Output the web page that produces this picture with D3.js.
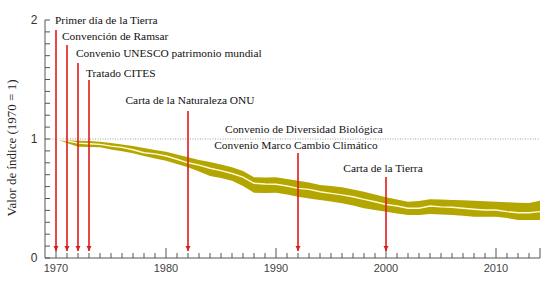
<!DOCTYPE html>
<html>
<head>
<meta charset="utf-8">
<script src="https://cdn.jsdelivr.net/npm/d3@7"></script>
<style>
  body { margin: 0; background: #fff; }
  svg { display: block; }
</style>
</head>
<body>
<div id="chart"></div>
<script>
// index values, 1970 = 1
const years = d3.range(1970, 2015);
const indexMid = [1.00, 0.985, 0.965, 0.96, 0.955, 0.94, 0.93, 0.91, 0.885, 0.875,
    0.857, 0.83, 0.80, 0.78, 0.754, 0.734, 0.71, 0.68, 0.628, 0.622,
    0.62, 0.605, 0.585, 0.577, 0.557, 0.543, 0.53, 0.515, 0.493, 0.473,
    0.45, 0.437, 0.418, 0.418, 0.437, 0.43, 0.426, 0.418, 0.41, 0.403,
    0.403, 0.39, 0.38, 0.38, 0.39];
const indexUpper = [1.00, 0.99, 0.985, 0.983, 0.977, 0.966, 0.954, 0.941, 0.924, 0.908,
    0.893, 0.87, 0.846, 0.824, 0.807, 0.786, 0.762, 0.731, 0.678, 0.676,
    0.678, 0.664, 0.65, 0.634, 0.613, 0.605, 0.594, 0.576, 0.557, 0.534,
    0.51, 0.492, 0.473, 0.479, 0.493, 0.492, 0.487, 0.485, 0.482, 0.477,
    0.473, 0.469, 0.465, 0.462, 0.482];
const indexLower = [1.00, 0.966, 0.935, 0.933, 0.93, 0.912, 0.897, 0.88, 0.857, 0.836,
    0.818, 0.79, 0.762, 0.727, 0.689, 0.672, 0.65, 0.605, 0.549, 0.546,
    0.549, 0.534, 0.515, 0.50, 0.487, 0.475, 0.46, 0.441, 0.418, 0.403,
    0.389, 0.374, 0.361, 0.361, 0.37, 0.366, 0.361, 0.355, 0.347, 0.347,
    0.347, 0.336, 0.319, 0.319, 0.319];

// milestones
const eventYears = [1970, 1971, 1972, 1973, 1982, 1992, 2000];
const eventLabels = [
    ["Primer día de la Tierra"],
    ["Convención de Ramsar"],
    ["Convenio UNESCO patrimonio mundial"],
    ["Tratado CITES"],
    ["Carta de la Naturaleza ONU"],
    ["Convenio de Diversidad Biológica", "Convenio Marco Cambio Climático"],
    ["Carta de la Tierra"]
];

const xTickYears = [1970, 1980, 1990, 2000, 2010];
const yTickValues = [0, 1, 2];

// layout of the annotations (pixels), not data
const eventLayout = [
    { top: 30, labels: [{ x: 55, y: 24, anchor: "start" }] },
    { top: 45, labels: [{ x: 62, y: 40, anchor: "start" }] },
    { top: 63, labels: [{ x: 76, y: 57, anchor: "start" }] },
    { top: 80, labels: [{ x: 86, y: 77, anchor: "start" }] },
    { top: 111, labels: [{ x: 190, y: 104, anchor: "middle" }] },
    { top: 153, labels: [{ x: 304, y: 133, anchor: "middle" }, { x: 296, y: 149, anchor: "middle" }] },
    { top: 177, labels: [{ x: 383, y: 172, anchor: "middle" }] }
];

const serif = "'Liberation Serif', 'Times New Roman', serif";
const sans = "'Liberation Sans', Arial, sans-serif";

const width = 551, height = 288;

const svg = d3.select("#chart")
    .append("svg")
    .attr("width", width)
    .attr("height", height);

const x = d3.scaleLinear().domain([1969, 2014]).range([45, 540]);
const y = d3.scaleLinear().domain([0, 2]).range([258, 20]);

const series = years.map((yr, i) => ({ year: yr, mid: indexMid[i], lo: indexLower[i], hi: indexUpper[i] }));

// reference line at 1
svg.append("line")
    .attr("x1", x(1969)).attr("x2", x(2014))
    .attr("y1", y(1)).attr("y2", y(1))
    .style("stroke", "#888")
    .style("stroke-width", 0.8)
    .style("stroke-dasharray", "1,1.5");

// confidence band
svg.append("path")
    .datum(series)
    .attr("d", d3.area()
        .x(d => x(d.year))
        .y0(d => y(d.lo))
        .y1(d => y(d.hi)))
    .style("fill", "#b3a600");

// index line
svg.append("path")
    .datum(series)
    .attr("d", d3.line()
        .x(d => x(d.year))
        .y(d => y(d.mid)))
    .style("fill", "none")
    .style("stroke", "#fffbd8")
    .style("stroke-width", 1.4);

// y axis
const yAxis = svg.append("g")
    .attr("transform", `translate(${x(1969)},0)`);
yAxis.append("line")
    .attr("y1", y(0)).attr("y2", y(2))
    .style("stroke", "#555");
yAxis.selectAll(".ytick")
    .data(d3.range(0, 21).map(d => d / 10))
    .join("line")
    .attr("x1", 0).attr("x2", 5)
    .attr("y1", d => y(d)).attr("y2", d => y(d))
    .style("stroke", "#555");
yAxis.selectAll(".ylab")
    .data(yTickValues)
    .join("text")
    .attr("x", -11)
    .attr("y", d => y(d) + 4)
    .style("text-anchor", "middle")
    .style("font-family", sans)
    .style("font-size", "12px")
    .style("fill", "#333")
    .text(d => d);

// x axis
const xAxis = svg.append("g")
    .attr("transform", `translate(0,${y(0)})`);
xAxis.append("line")
    .attr("x1", x(1969)).attr("x2", x(2014))
    .style("stroke", "#555");
xAxis.selectAll(".xtick")
    .data(d3.range(1970, 2015))
    .join("line")
    .attr("x1", d => x(d)).attr("x2", d => x(d))
    .attr("y1", 0)
    .attr("y2", d => (d % 10 === 0 || d === 2014) ? -10 : -5)
    .style("stroke", "#555");
xAxis.selectAll(".xlab")
    .data(xTickYears)
    .join("text")
    .attr("x", d => x(d))
    .attr("y", 14)
    .style("text-anchor", "middle")
    .style("font-family", sans)
    .style("font-size", "11px")
    .style("fill", "#444")
    .text(d => d);

// y axis title
svg.append("text")
    .attr("transform", "translate(16,148) rotate(-90)")
    .style("text-anchor", "middle")
    .style("font-family", serif)
    .style("font-size", "13px")
    .style("fill", "#222")
    .text("Valor de índice (1970 = 1)");

// arrow marker
svg.append("defs").append("marker")
    .attr("id", "arrow")
    .attr("viewBox", "0 0 10 10")
    .attr("refX", 10).attr("refY", 5)
    .attr("markerWidth", 3.2).attr("markerHeight", 3.2)
    .attr("orient", "auto")
    .append("path")
    .attr("d", "M0,0L10,5L0,10Z")
    .style("fill", "#e01a1a");

// milestone arrows and labels
eventYears.forEach((yr, i) => {
    const lay = eventLayout[i];
    svg.append("line")
        .attr("x1", x(yr)).attr("x2", x(yr))
        .attr("y1", lay.top).attr("y2", y(0) - 7)
        .attr("marker-end", "url(#arrow)")
        .style("stroke", "#e01a1a")
        .style("stroke-width", 1.6);

    eventLabels[i].forEach((lbl, j) => {
        svg.append("text")
            .attr("x", lay.labels[j].x)
            .attr("y", lay.labels[j].y)
            .style("text-anchor", lay.labels[j].anchor)
            .style("font-family", serif)
            .style("font-size", "11.4px")
            .style("fill", "#111")
            .text(lbl);
    });
});
</script>
</body>
</html>
